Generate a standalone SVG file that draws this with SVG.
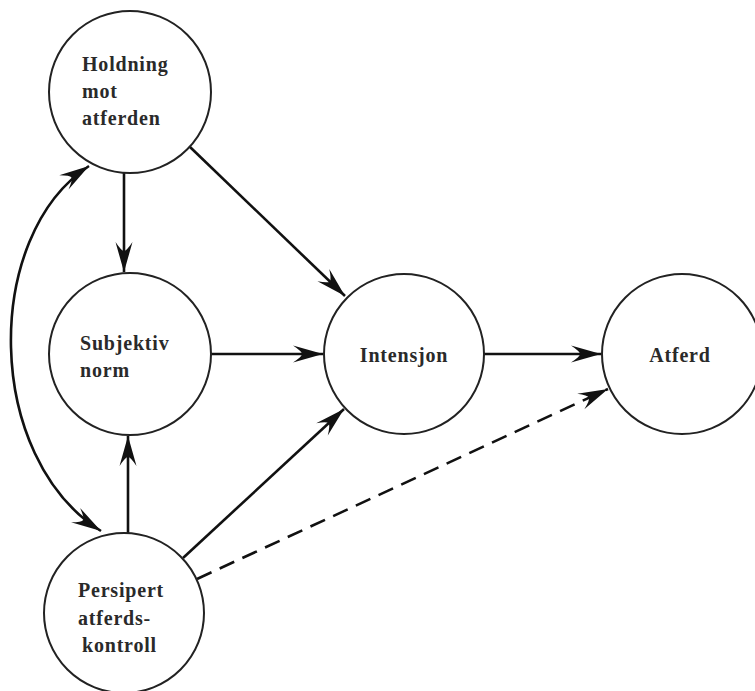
<svg xmlns="http://www.w3.org/2000/svg" width="755" height="691" viewBox="0 0 755 691">
<style>
.node{fill:#fff;stroke:#222;stroke-width:2}
.lbl{font-family:"Liberation Serif","Times New Roman",serif;font-size:20px;font-weight:bold;fill:#2a2a2a;letter-spacing:0.8px}
.edge{fill:none;stroke:#111;stroke-width:2.6}
.dash{stroke-dasharray:16 9}
</style>
<defs>
<marker id="ah" markerUnits="userSpaceOnUse" markerWidth="36" markerHeight="22" viewBox="-32 -11 34 22" refX="0" refY="0" orient="auto-start-reverse">
<path d="M0,0 L-30,-8.5 Q-21,-2.5 -21,0 Q-21,2.5 -30,8.5 Z" fill="#111"/>
</marker>
</defs>
<rect width="755" height="691" fill="#fff"/>
<g id="connectors">
<line class="edge" x1="124" y1="173" x2="124" y2="272" marker-end="url(#ah)"/>
<line class="edge" x1="190" y1="147" x2="345" y2="296" marker-end="url(#ah)"/>
<line class="edge" x1="211" y1="354" x2="323" y2="354" marker-end="url(#ah)"/>
<line class="edge" x1="484" y1="354" x2="601" y2="354" marker-end="url(#ah)"/>
<line class="edge" x1="128" y1="533" x2="128" y2="436" marker-end="url(#ah)"/>
<line class="edge" x1="183" y1="558" x2="344" y2="409" marker-end="url(#ah)"/>
<line class="edge dash" x1="197" y1="579" x2="608" y2="389" marker-end="url(#ah)"/>
<path class="edge" d="M89,166 C-18,236 -16,458 101,531" marker-start="url(#ah)" marker-end="url(#ah)"/>
</g>
<g id="holdning">
<circle class="node" cx="130" cy="92" r="81"/>
<text class="lbl" x="82" y="71">Holdning</text>
<text class="lbl" x="82" y="98">mot</text>
<text class="lbl" x="82" y="125">atferden</text>
</g>
<g id="subjektiv">
<circle class="node" cx="130" cy="354" r="81"/>
<text class="lbl" x="80" y="350">Subjektiv</text>
<text class="lbl" x="80" y="377">norm</text>
</g>
<g id="persipert">
<circle class="node" cx="124" cy="613" r="80"/>
<text class="lbl" x="78" y="597">Persipert</text>
<text class="lbl" x="78" y="625">atferds-</text>
<text class="lbl" x="82" y="652">kontroll</text>
</g>
<g id="intensjon">
<circle class="node" cx="404" cy="354" r="80"/>
<text class="lbl" x="404" y="362" text-anchor="middle">Intensjon</text>
</g>
<g id="atferd">
<circle class="node" cx="682" cy="354" r="80"/>
<text class="lbl" x="680" y="362" text-anchor="middle">Atferd</text>
</g>
</svg>
